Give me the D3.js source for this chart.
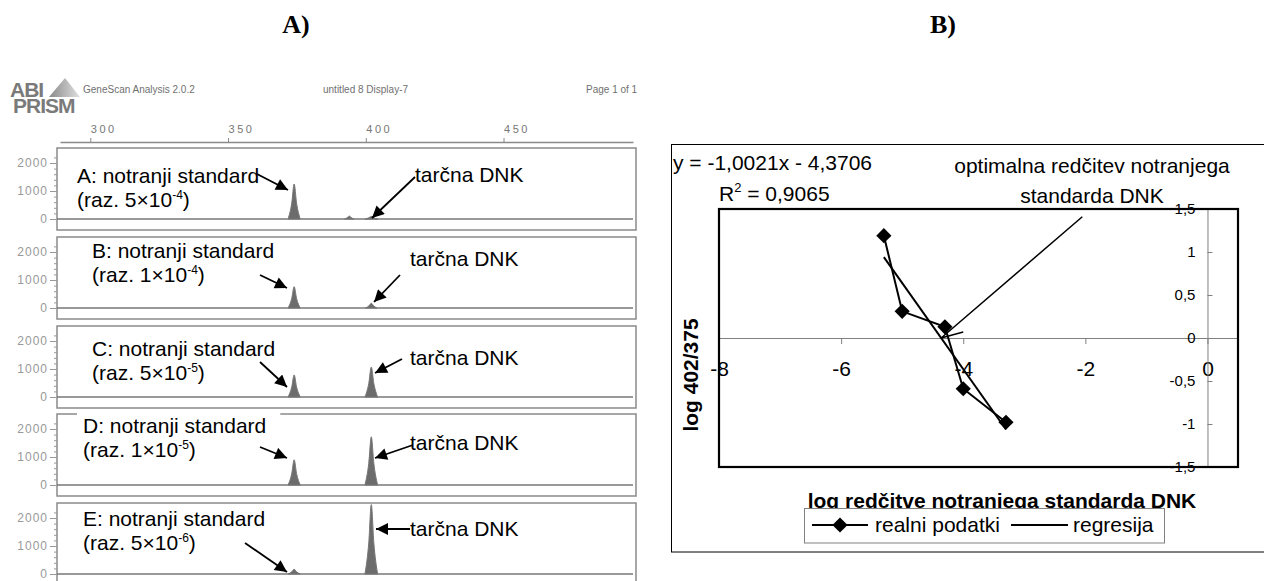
<!DOCTYPE html>
<html lang="sl">
<head>
<meta charset="UTF-8">
<title>GeneScan + log 402/375</title>
<script src="https://cdn.jsdelivr.net/npm/d3@7"></script>
<style>
    body { margin: 0; background: #fff; }
    svg { display: block; font-family: "Liberation Sans", Arial, sans-serif; }
</style>
</head>
<body>
<script>
'use strict';

// ---- A) GeneScan panels ----
var panelNames = ['A', 'B', 'C', 'D', 'E'];
var dilutionCoef = ['5', '1', '5', '1', '5'];
var dilutionExp = ['-4', '-4', '-5', '-5', '-6'];
var stdBp = 374, targetBp = 402;                       // velikost fragmenta (bp)
var stdHeight = [1250, 760, 790, 900, 170];            // notranji standard
var targetHeight = [90, 170, 1070, 1720, 2480];        // tarčna DNK
var extraPeaks = [[{ bp: 394, h: 110 }], [], [], [], []];
var bpTicks = [300, 350, 400, 450];
var intensityTicks = [0, 1000, 2000];

// ---- B) regresija ----
var dilutionLog = [-5.3, -5.0, -4.3, -4.0, -3.3];
var logRatio = [1.19, 0.31, 0.13, -0.59, -0.98];
var regSlope = -1.0021, regIntercept = -4.3706, rSquared = 0.9065;
var xTicksB = [-8, -6, -4, -2, 0];
var yTicksB = [-1.5, -1, -0.5, 0, 0.5, 1, 1.5];

var W = 1264, H = 581;
var svg = d3.select('body').append('svg').attr('width', W).attr('height', H);

var defs = svg.append('defs');
defs.append('marker')
    .attr('id', 'head')
    .attr('viewBox', '0 0 10 10')
    .attr('refX', 10).attr('refY', 5)
    .attr('markerUnits', 'userSpaceOnUse')
    .attr('markerWidth', 15).attr('markerHeight', 12)
    .attr('orient', 'auto')
    .append('path').attr('d', 'M0,0L10,5L0,10z').attr('fill', '#000');
var grad = defs.append('linearGradient').attr('id', 'fan').attr('x1', 0).attr('x2', 1);
grad.append('stop').attr('offset', 0).attr('stop-color', '#8a8a8a');
grad.append('stop').attr('offset', 1).attr('stop-color', '#e0e0e0');

var serif = 'bold 26px "Liberation Serif", "Times New Roman", serif';
svg.append('text').attr('x', 296).attr('y', 33).attr('text-anchor', 'middle').style('font', serif).text('A)');
svg.append('text').attr('x', 943).attr('y', 33).attr('text-anchor', 'middle').style('font', serif).text('B)');

// header of GeneScan printout
svg.append('polygon').attr('points', '49,97 65,78 80,97').attr('fill', 'url(#fan)');
var logo = svg.append('text').attr('fill', '#7a7a7a')
    .style('font-weight', 'bold').style('font-size', '21px').style('letter-spacing', '-1px');
logo.append('tspan').attr('x', 10).attr('y', 97).text('ABI');
logo.append('tspan').attr('x', 13).attr('y', 113).text('PRISM');
[[83, 'GeneScan Analysis 2.0.2'], [323, 'untitled 8 Display-7'], [586, 'Page 1 of 1']].forEach(function (t) {
    svg.append('text').attr('x', t[0]).attr('y', 93).attr('fill', '#707070')
        .style('font-size', '10px').text(t[1]);
});

var bp = d3.scaleLinear().domain([289, 497]).range([60, 633]);

var topAxis = svg.append('g').attr('transform', 'translate(0,142)')
    .call(d3.axisTop(bp).tickValues(bpTicks).tickSize(4).tickSizeOuter(0));
topAxis.select('.domain').attr('stroke', '#8a8a8a').attr('stroke-width', 1.5);
topAxis.selectAll('.tick line').attr('stroke', '#8a8a8a');
topAxis.selectAll('.tick text').attr('text-anchor', 'start').attr('x', 0).attr('y', -9)
    .attr('fill', '#777').style('font-size', '11px').style('letter-spacing', '2.5px');

var panelTops = [148, 237, 326, 414, 503];
var labelX = [77, 92, 92, 83, 83];
var labelY1 = [35, 21, 30, 19, 23];
var labelY2 = [59, 45, 54, 43, 47];
var stdArrow = [[257, 26, 288, 42], [260, 38, 287, 51], [260, 36, 287, 61], [260, 33, 287, 44], [245, 40, 287, 69]];
var tgtArrow = [[415, 29, 372, 70], [400, 38, 374, 65], [402, 33, 375, 47], [413, 31, 375, 44], [410, 26, 376, 26]];
var tgtText = [[415, 34], [410, 29], [410, 39], [410, 36], [410, 33]];

var yInt = d3.scaleLinear().domain([0, 2000]).range([71, 15]);

var peakArea = d3.area()
    .x(function (d) { return bp(d[0]); })
    .y0(yInt(0))
    .y1(function (d) { return yInt(d[1]); })
    .curve(d3.curveMonotoneX);

function peakPts(pos, h, w) {
    return [[pos - w / 2, 0], [pos - w / 5, h * 0.45], [pos, h], [pos + w / 5, h * 0.45], [pos + w / 2, 0]];
}

panelNames.forEach(function (name, i) {
    var g = svg.append('g').attr('transform', 'translate(0,' + panelTops[i] + ')');

    g.append('rect').attr('x', 57).attr('y', 0).attr('width', 579).attr('height', 82)
        .attr('fill', 'none').attr('stroke', '#8a8a8a').attr('stroke-width', 1.5);

    var ax = g.append('g').attr('transform', 'translate(57,0)')
        .call(d3.axisLeft(yInt).tickValues(intensityTicks).tickSize(7).tickPadding(2).tickFormat(d3.format('d')));
    ax.select('.domain').remove();
    ax.selectAll('.tick line').attr('stroke', '#999');
    ax.selectAll('.tick text').attr('fill', '#999').style('font-size', '12px').style('letter-spacing', '1px');
    var minor = g.append('g').attr('transform', 'translate(57,0)')
        .call(d3.axisLeft(yInt).tickValues(d3.range(0, 2201, 200)).tickSize(3).tickFormat(''));
    minor.select('.domain').remove();
    minor.selectAll('.tick line').attr('stroke', '#999');

    // trace baseline + peaks
    g.append('line').attr('x1', 57).attr('x2', 633).attr('y1', yInt(0)).attr('y2', yInt(0))
        .attr('stroke', '#777').attr('stroke-width', 1.5);
    var peaks = [peakPts(stdBp, stdHeight[i], 4.4), peakPts(targetBp, targetHeight[i], i === 1 ? 4.2 : 4.6)];
    extraPeaks[i].forEach(function (p) { peaks.push(peakPts(p.bp, p.h, 3.4)); });
    g.selectAll('path.peak').data(peaks).join('path').attr('class', 'peak')
        .attr('d', peakArea).attr('fill', '#6c6c6c').attr('stroke', '#777').attr('stroke-width', 1);

    // label (white backing only where it runs into the frame, as in D)
    var t1 = g.append('text').attr('x', labelX[i]).attr('y', labelY1[i]).style('font-size', '21px')
        .text(name + ': notranji standard');
    var bb = t1.node().getBBox();
    if (bb.y < 1) {
        g.insert('rect', function () { return t1.node(); })
            .attr('x', bb.x - 6).attr('y', bb.y - 3).attr('width', bb.width + 20).attr('height', bb.height)
            .attr('fill', '#fff');
    }
    var t2 = g.append('text').attr('x', labelX[i]).attr('y', labelY2[i]).style('font-size', '21px');
    t2.append('tspan').text('(raz. ' + dilutionCoef[i] + '×10');
    t2.append('tspan').attr('dy', -8).style('font-size', '12px').text(dilutionExp[i]);
    t2.append('tspan').attr('dy', 8).text(')');

    g.append('text').attr('x', tgtText[i][0]).attr('y', tgtText[i][1]).style('font-size', '21px').text('tarčna DNK');

    [stdArrow[i], tgtArrow[i]].forEach(function (a) {
        g.append('line').attr('x1', a[0]).attr('y1', a[1]).attr('x2', a[2]).attr('y2', a[3])
            .attr('stroke', '#000').attr('stroke-width', 1.8).attr('marker-end', 'url(#head)');
    });
});

// ---- B) chart ----
var xB = d3.scaleLinear().domain([-8, 0.5]).range([719, 1238]);
var yB = d3.scaleLinear().domain([-1.5, 1.5]).range([467, 209]);
var fmt = function (d) { return String(d).replace('.', ','); };

svg.append('rect').attr('x', 671.5).attr('y', 144.5).attr('width', 700).attr('height', 407.5)
    .attr('fill', 'none').attr('stroke', '#000').attr('stroke-width', 1);

var xAx = svg.append('g').attr('transform', 'translate(0,' + yB(0) + ')')
    .call(d3.axisBottom(xB).tickValues(xTicksB).tickSize(6).tickSizeOuter(0).tickPadding(17).tickFormat(fmt));
xAx.select('.domain').attr('stroke', '#808080');
xAx.selectAll('.tick line').attr('stroke', '#808080');
xAx.selectAll('.tick text').attr('fill', '#000').style('font-size', '21px');

var yAx = svg.append('g').attr('transform', 'translate(' + xB(0) + ',0)')
    .call(d3.axisRight(yB).tickValues(yTicksB).tickSize(5).tickSizeOuter(0).tickFormat(fmt));
yAx.select('.domain').attr('stroke', '#808080');
yAx.selectAll('.tick line').attr('stroke', '#808080');
yAx.selectAll('.tick text').attr('x', -12).attr('text-anchor', 'end').attr('fill', '#000').style('font-size', '15px');

var pts = dilutionLog.map(function (v, i) { return [v, logRatio[i]]; });
var lineB = d3.line().x(function (d) { return xB(d[0]); }).y(function (d) { return yB(d[1]); });

var xExt = d3.extent(dilutionLog);
svg.append('path')
    .attr('d', lineB(xExt.map(function (v) { return [v, regSlope * v + regIntercept]; })))
    .attr('fill', 'none').attr('stroke', '#000').attr('stroke-width', 2);

svg.append('path').attr('d', lineB(pts)).attr('fill', 'none').attr('stroke', '#000').attr('stroke-width', 2);
var diamond = d3.symbol().type(d3.symbolSquare).size(115);
svg.selectAll('path.pt').data(pts).join('path').attr('class', 'pt')
    .attr('d', diamond)
    .attr('transform', function (d) { return 'translate(' + xB(d[0]) + ',' + yB(d[1]) + ') rotate(45)'; })
    .attr('fill', '#000');

// kazalec na optimalno redčitev
var x0 = -regIntercept / regSlope;
svg.append('path').attr('d', lineB([[-2.05, 1.41], [x0, 0], [-4.0, 0.07]]))
    .attr('fill', 'none').attr('stroke', '#000').attr('stroke-width', 1.5);

svg.append('rect').attr('x', 719).attr('y', 209).attr('width', 519).attr('height', 258)
    .attr('fill', 'none').attr('stroke', '#000').attr('stroke-width', 2.2);

svg.append('text').attr('x', 673).attr('y', 170).style('font-size', '21px')
    .text('y = ' + fmt(regSlope) + 'x - ' + fmt(-regIntercept));
var r2 = svg.append('text').attr('x', 719).attr('y', 201).style('font-size', '21px');
r2.append('tspan').text('R');
r2.append('tspan').attr('dy', -9).style('font-size', '13px').text('2');
r2.append('tspan').attr('dy', 9).text(' = ' + fmt(rSquared));

var opt = svg.append('text').attr('text-anchor', 'middle').style('font-size', '21px');
opt.append('tspan').attr('x', 1092).attr('y', 173).text('optimalna redčitev notranjega');
opt.append('tspan').attr('x', 1092).attr('y', 203).text('standarda DNK');

svg.append('text').attr('transform', 'translate(698,375) rotate(-90)').attr('text-anchor', 'middle')
    .style('font-size', '21px').style('font-weight', 'bold').text('log 402/375');
svg.append('text').attr('x', 1002).attr('y', 508).attr('text-anchor', 'middle')
    .style('font-size', '21px').style('font-weight', 'bold').text('log redčitve notranjega standarda DNK');

// legenda
var leg = svg.append('g');
leg.append('rect').attr('x', 804.5).attr('y', 508.5).attr('width', 360).attr('height', 34.5)
    .attr('fill', '#fff').attr('stroke', '#808080');
leg.append('line').attr('x1', 812).attr('x2', 868).attr('y1', 525).attr('y2', 525).attr('stroke', '#000').attr('stroke-width', 2);
leg.append('path').attr('d', diamond).attr('transform', 'translate(840,525) rotate(45)').attr('fill', '#000');
leg.append('text').attr('x', 875).attr('y', 532).style('font-size', '21px').text('realni podatki');
leg.append('line').attr('x1', 1011).attr('x2', 1068).attr('y1', 525).attr('y2', 525).attr('stroke', '#000').attr('stroke-width', 2);
leg.append('text').attr('x', 1073).attr('y', 532).style('font-size', '21px').text('regresija');
</script>
</body>
</html>
